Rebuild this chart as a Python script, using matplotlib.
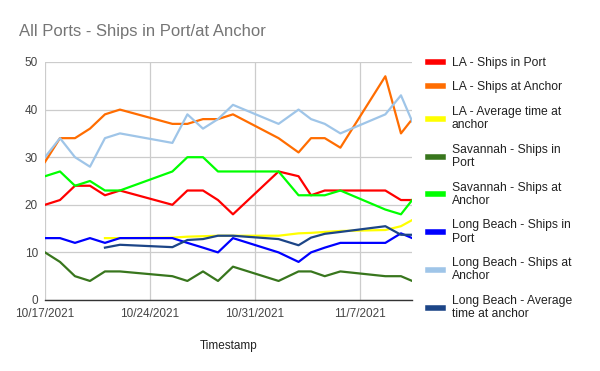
import matplotlib
matplotlib.use("Agg")
import matplotlib.pyplot as plt
import matplotlib.dates as mdates
from matplotlib.ticker import FuncFormatter
import numpy as np
import pandas as pd

plt.rcParams['font.family'] = ['Liberation Sans', 'DejaVu Sans']

timestamps = ["2021-10-17 00:00", "2021-10-18 00:00", "2021-10-19 00:00", "2021-10-20 00:00",
              "2021-10-21 00:00", "2021-10-22 00:00", "2021-10-25 12:00", "2021-10-26 12:00",
              "2021-10-27 13:00", "2021-10-28 13:00", "2021-10-29 13:00", "2021-11-01 14:00",
              "2021-11-02 22:00", "2021-11-03 18:00", "2021-11-04 16:00", "2021-11-05 17:00",
              "2021-11-08 17:00", "2021-11-09 18:00", "2021-11-10 12:00"]

la_port = [20, 21, 24, 24, 22, 23, 20, 23, 23, 21, 18, 27, 26, 22, 23, 23, 23, 21, 21]
la_anchor = [29, 34, 34, 36, 39, 40, 37, 37, 38, 38, 39, 34, 31, 34, 34, 32, 47, 35, 38]
la_avg = [None, None, None, None, 13.0, 13.0, 13.1, 13.3, 13.4, 13.5, 13.5, 13.5, 14.0, 14.1,
          14.3, 14.5, 14.7, 15.5, 16.8]
sav_port = [10, 8, 5, 4, 6, 6, 5, 4, 6, 4, 7, 4, 6, 6, 5, 6, 5, 5, 4]
sav_anchor = [26, 27, 24, 25, 23, 23, 27, 30, 30, 27, 27, 27, 22, 22, 22, 23, 19, 18, 21]
lb_port = [13, 13, 12, 13, 12, 13, 13, 12, 11, 10, 13, 10, 8, 10, 11, 12, 12, 14, 13]
lb_anchor = [30, 34, 30, 28, 34, 35, 33, 39, 36, 38, 41, 37, 40, 38, 37, 35, 39, 43, 37.5]
lb_avg = [None, None, None, None, 11.0, 11.6, 11.1, 12.6, 12.8, 13.5, 13.5, 12.8, 11.5, 13.1,
          13.9, 14.3, 15.5, 13.7, 13.7]

series = [
    ("LA - Ships in Port", la_port, "#ff0000"),
    ("LA - Ships at Anchor", la_anchor, "#ff6d01"),
    ("LA - Average time at\nanchor", la_avg, "#ffff00"),
    ("Savannah - Ships in\nPort", sav_port, "#38761d"),
    ("Savannah - Ships at\nAnchor", sav_anchor, "#00ff00"),
    ("Long Beach - Ships in\nPort", lb_port, "#0000ff"),
    ("Long Beach - Ships at\nAnchor", lb_anchor, "#9fc5e8"),
    ("Long Beach - Average\ntime at anchor", lb_avg, "#1c4587"),
]

x = pd.to_datetime(timestamps)

fig = plt.figure(figsize=(6.0, 3.71), dpi=100)
ax = fig.add_axes([0.075, 0.1914, 0.612, 0.6415])

for label, vals, color in series:
    y = np.array([np.nan if v is None else v for v in vals], dtype=float)
    ax.plot(x, y, color=color, lw=1.6, label=label, solid_joinstyle='round')

ax.set_xlim(pd.Timestamp("2021-10-17 00:00"), pd.Timestamp("2021-11-10 12:00"))
ax.set_ylim(0, 50)
ax.set_yticks([0, 10, 20, 30, 40, 50])
ticks = pd.to_datetime(["2021-10-17", "2021-10-24", "2021-10-31", "2021-11-07"])
ax.set_xticks(ticks)
ax.xaxis.set_major_formatter(FuncFormatter(
    lambda v, p: (lambda d: f"{d.month}/{d.day}/{d.year}")(mdates.num2date(v))))

ax.grid(True, color="#cccccc", lw=0.9)
ax.set_axisbelow(True)
for s in ["top", "right", "left"]:
    ax.spines[s].set_visible(False)
ax.spines["bottom"].set_color("#333333")
ax.spines["bottom"].set_linewidth(1.0)
ax.tick_params(axis="both", length=0, labelsize=8.5, labelcolor="#444444")
ax.tick_params(axis="x", pad=6)
ax.tick_params(axis="y", pad=5)

ax.set_xlabel("Timestamp", fontsize=8.5, color="#222222", labelpad=14)

fig.text(0.032, 0.915, "All Ports - Ships in Port/at Anchor", fontsize=12, color="#757575",
         ha="left", va="center")

leg = ax.legend(loc="upper left", bbox_to_anchor=(0.713, 0.847), bbox_transform=fig.transFigure,
                frameon=False, fontsize=8.7, handlelength=1.25, handletextpad=0.75,
                labelspacing=1.05, borderpad=0, borderaxespad=0)
for line in leg.get_lines():
    line.set_linewidth(4)
for t in leg.get_texts():
    t.set_color("#222222")
    t.set_linespacing(1.12)

fig.savefig("out.png", dpi=100)
